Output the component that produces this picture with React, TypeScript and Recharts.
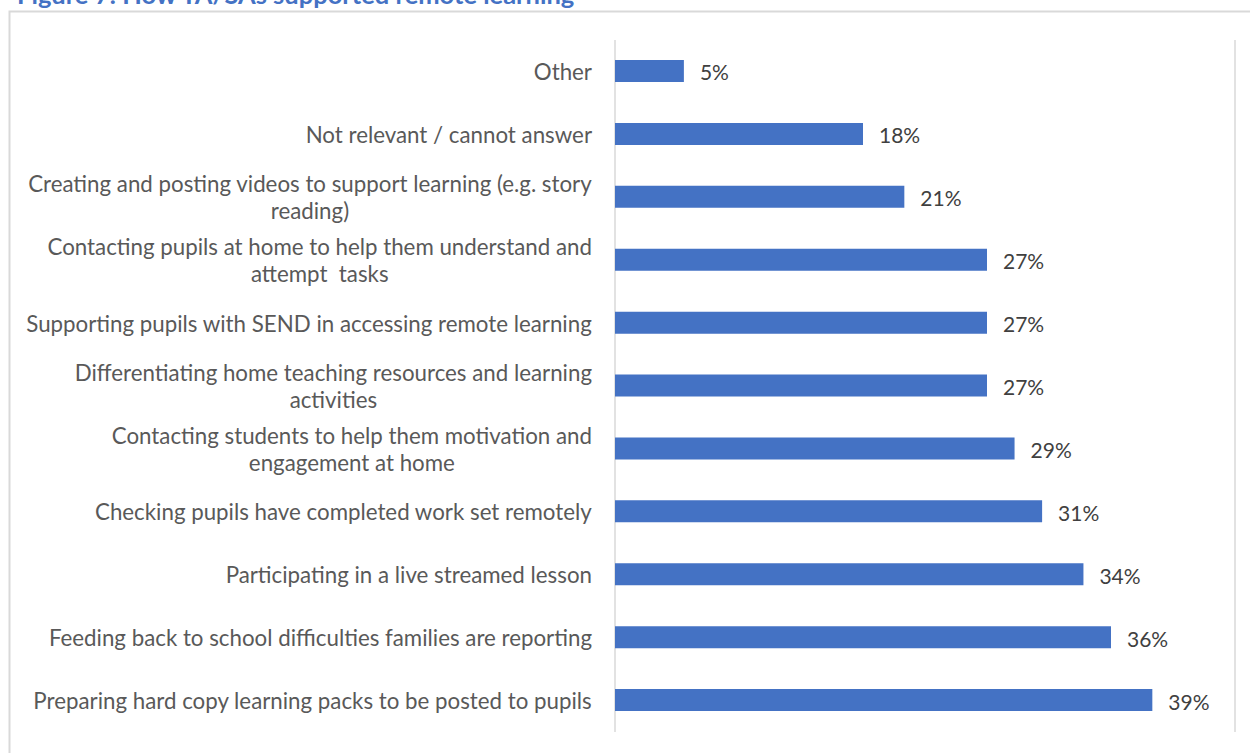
import React from "react";
import { BarChart, Bar, XAxis, YAxis, CartesianGrid, LabelList } from "recharts";

const categories: string[] = [
  "Other",
  "Not relevant / cannot answer",
  "Creating and posting videos to support learning (e.g. story\nreading)",
  "Contacting pupils at home to help them understand and\nattempt  tasks",
  "Supporting pupils with SEND in accessing remote learning",
  "Differentiating home teaching resources and learning\nactivities",
  "Contacting students to help them motivation and\nengagement at home",
  "Checking pupils have completed work set remotely",
  "Participating in a live streamed lesson",
  "Feeding back to school difficulties families are reporting",
  "Preparing hard copy learning packs to be posted to pupils",
];

const values: number[] = [5, 18, 21, 27, 27, 27, 29, 31, 34, 36, 39];

const xTicks: number[] = [0, 5, 10, 15, 20, 25, 30, 35, 40, 45];

const title = "Figure 7: How TA/SAs supported remote learning";

const data = categories.map((label, i) => ({ label, value: values[i] }));

const FONT = "Lato";
const LABEL_SIZE = 22.3;
const LINE_GAP = 27;

let ctx: CanvasRenderingContext2D | null = null;
function measure(text: string, size: number): number {
  if (!ctx) {
    const c = document.createElement("canvas");
    ctx = c.getContext("2d");
  }
  if (!ctx) return text.length * size * 0.5;
  ctx.font = `${size}px ${FONT}`;
  return ctx.measureText(text).width;
}

const CategoryTick = (props: any) => {
  const { x, y, payload } = props;
  const lines: string[] = String(payload.value).split("\n");
  const right = x - 23;
  const maxW = Math.max(...lines.map((l) => measure(l, LABEL_SIZE)));
  const cx = right - maxW / 2;
  const start = -((lines.length - 1) / 2) * LINE_GAP;
  return (
    <g>
      {lines.map((l, i) => (
        <text
          key={i}
          x={cx}
          y={y + start + i * LINE_GAP}
          textAnchor="middle"
          dominantBaseline="central"
          fontFamily={FONT}
          fontSize={LABEL_SIZE}
          fill="#595959"
          style={{ whiteSpace: "pre" }}
        >
          {l}
        </text>
      ))}
    </g>
  );
};

export default function App() {
  return (
    <div style={{ position: "absolute", left: 0, top: 0, width: 1250, height: 753, overflow: "hidden", background: "#fff" }}>
      <svg width={1250} height={753} style={{ position: "absolute", left: 0, top: 0 }}>
        <rect x={9.5} y={11.5} width={1300} height={900} fill="none" stroke="#d9d9d9" strokeWidth={2} />
        <text x={17} y={4} fontFamily={FONT} fontWeight={700} fontSize={25.5} fill="#4472C4">
          {title}
        </text>
      </svg>
      <div style={{ position: "absolute", left: 0, top: 0 }}>
        <BarChart
          width={1250}
          height={753}
          data={data}
          layout="vertical"
          margin={{ top: 40, right: 15, bottom: 21, left: 0 }}
        >
          <CartesianGrid horizontal={false} vertical={true} stroke="#d9d9d9" strokeWidth={1.5} />
          <XAxis
            type="number"
            domain={[0, 45]}
            ticks={xTicks}
            tick={false}
            axisLine={false}
            tickLine={false}
            height={0}
          />
          <YAxis
            type="category"
            dataKey="label"
            width={615}
            axisLine={false}
            tickLine={false}
            tickSize={0}
            tickMargin={0}
            interval={0}
            tick={<CategoryTick />}
          />
          <Bar dataKey="value" fill="#4472C4" barSize={22} isAnimationActive={false}>
            <LabelList
              dataKey="value"
              position="right"
              offset={16}
              formatter={(v: any) => `${v}%`}
              fill="#404040"
              fontFamily={FONT}
              fontSize={21}
              dy={2}
            />
          </Bar>
        </BarChart>
      </div>
    </div>
  );
}
